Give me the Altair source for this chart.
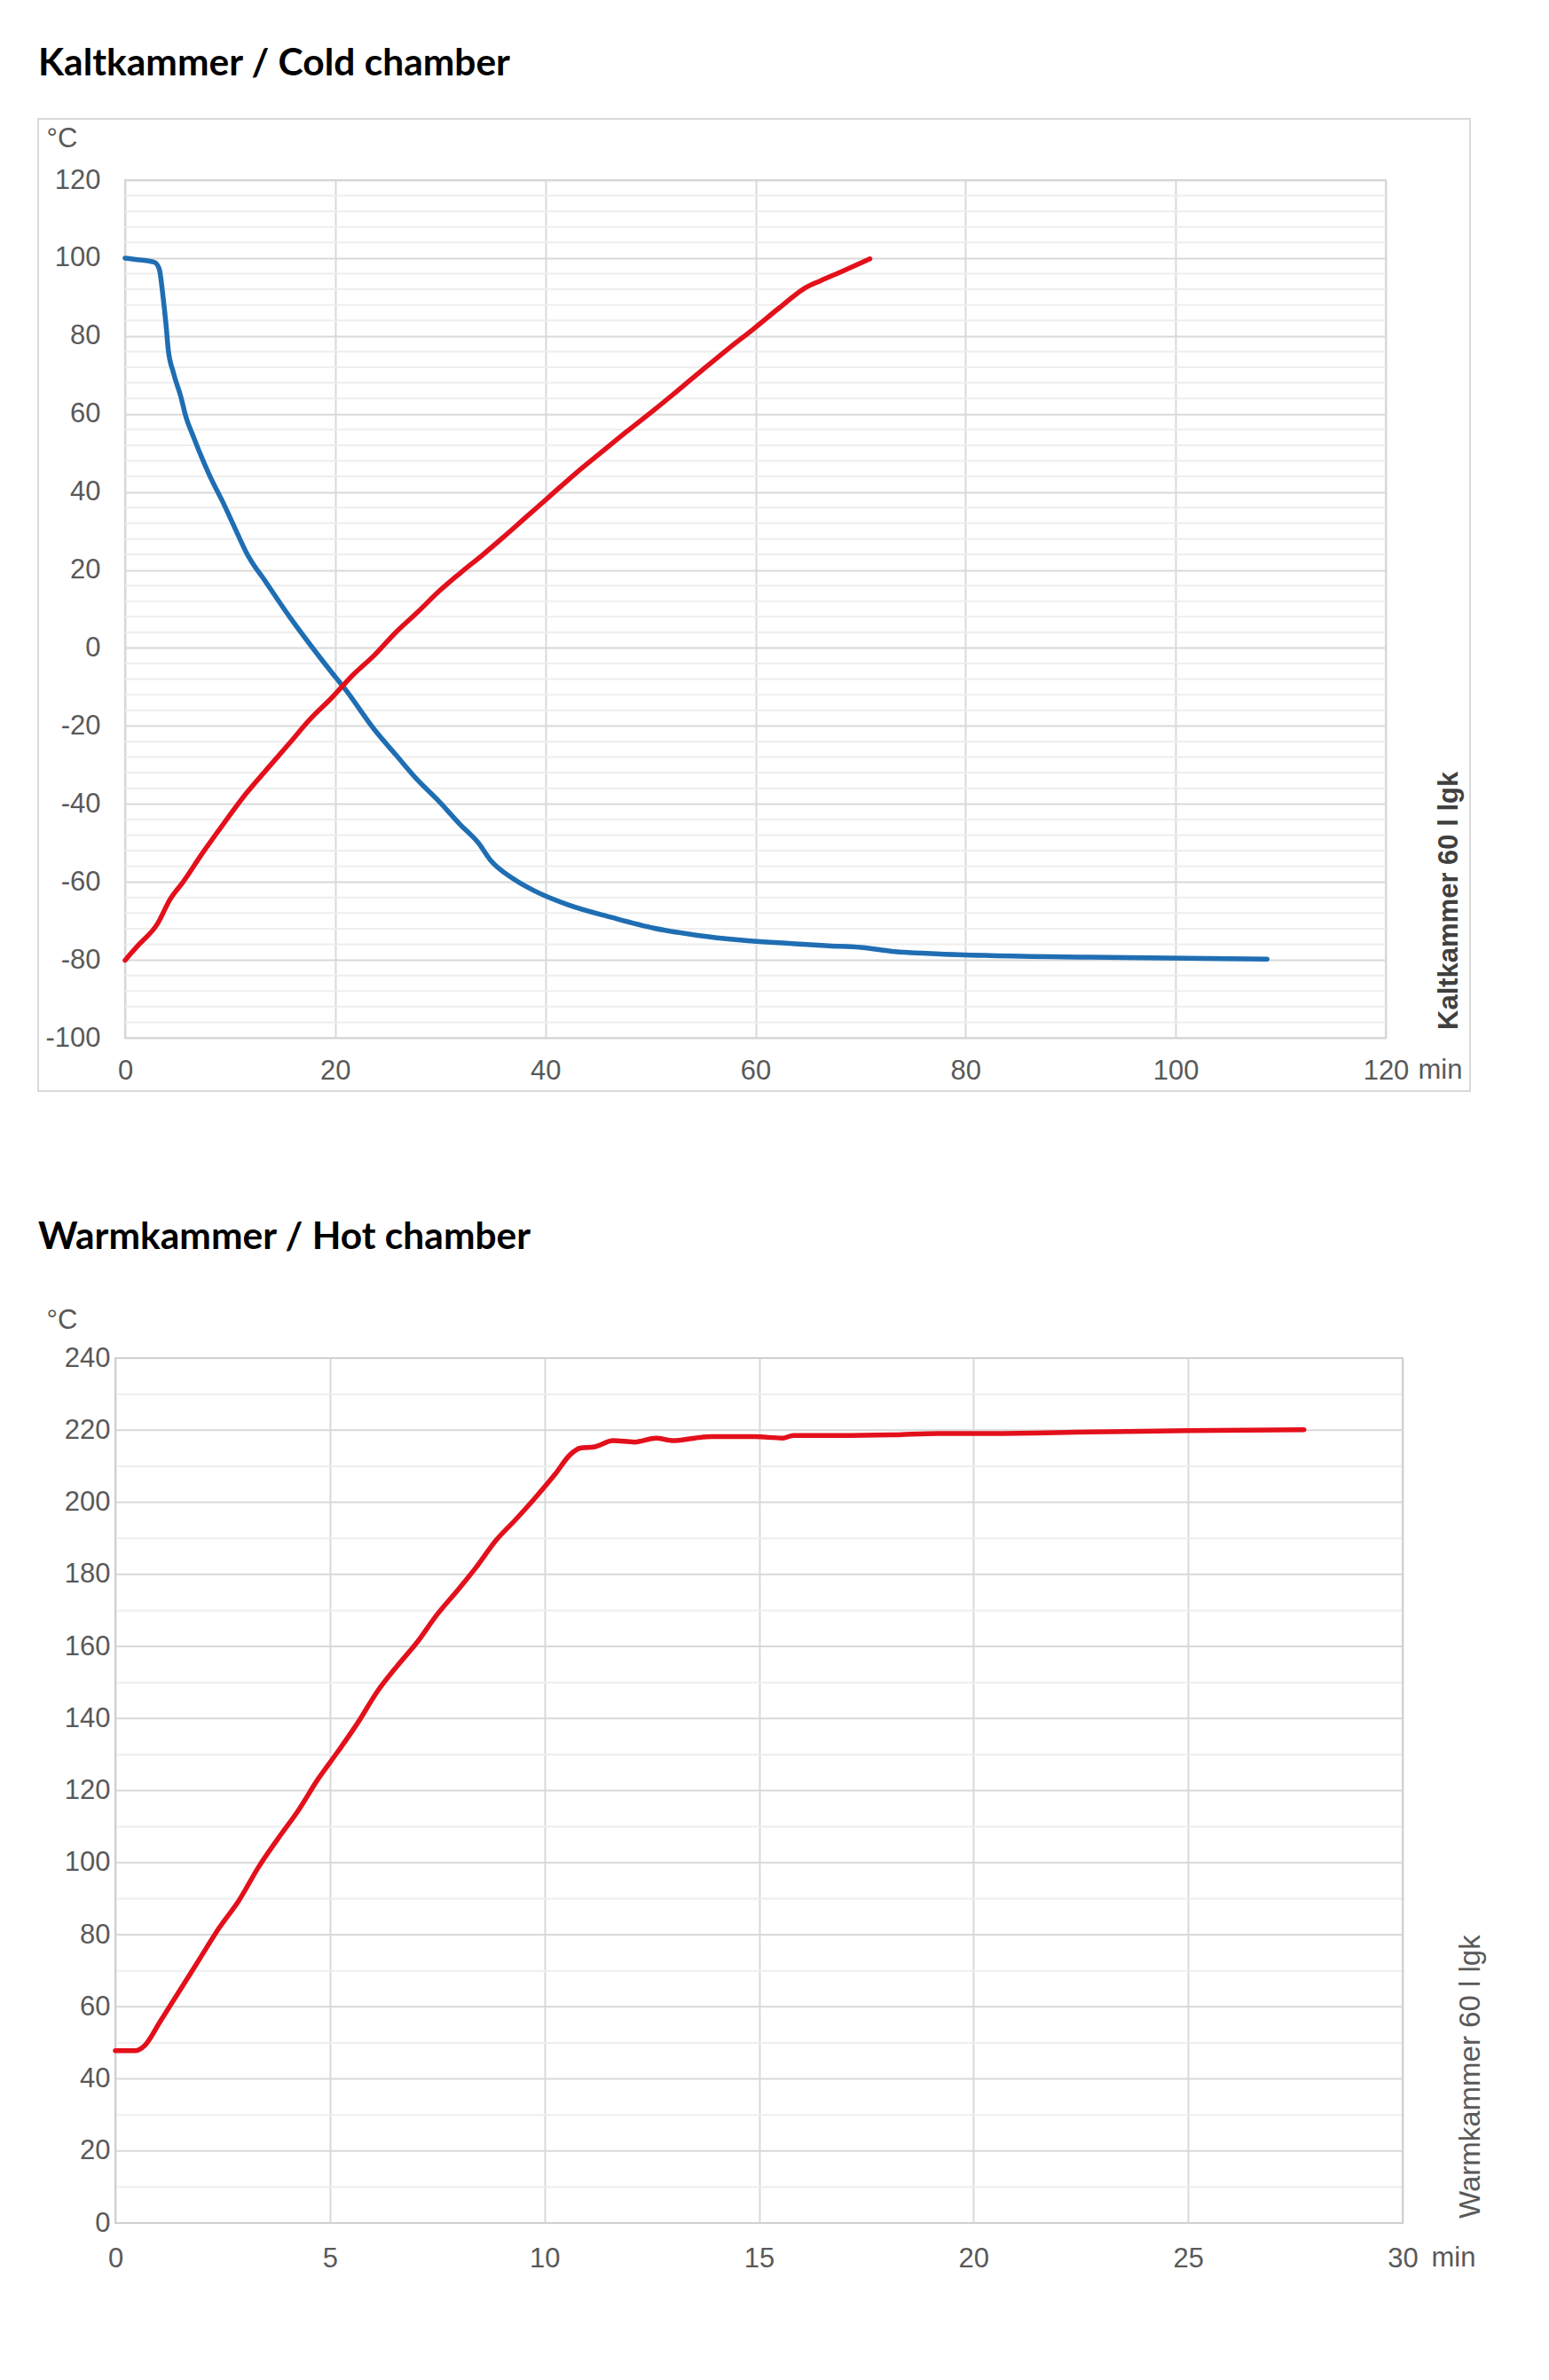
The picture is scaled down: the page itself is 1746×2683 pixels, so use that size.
import altair as alt
import pandas as pd

# ---------------- data: Kaltkammer / Cold chamber ----------------
cold_blue_t = [0, 1.2, 2.8, 3.25, 3.6, 3.9, 4.1, 4.6, 5.3, 5.8, 6.5, 7.0, 8.0, 9.45, 10.9,
               11.5, 13.5, 15.6, 17.6, 19.7, 20.9, 23.75, 25.8, 27.85, 29.9, 31.9, 33.6,
               34.8, 36.9, 38.9, 42.2, 46.3, 50.4, 54.5, 58.6, 63.4, 67.0, 70.0, 73.0,
               77.6, 82.4, 91.8, 101.2, 108.7]
cold_blue_v = [100, 99.6, 98.9, 97.2, 90.4, 82.8, 76.7, 70.6, 64.5, 59.2, 54.2, 50.8, 44.5,
               36.6, 28.1, 24.7, 16.5, 8.2, 0.9, -6.4, -10.4, -21.0, -27.5, -33.9, -39.4,
               -45.3, -49.9, -54.5, -59.1, -62.2, -65.9, -69.1, -71.9, -73.7, -74.9, -75.8,
               -76.4, -76.8, -77.8, -78.5, -78.9, -79.3, -79.6, -79.8]

cold_red_t = [0, 0.5, 1.23, 3.07, 4.3, 5.53, 7.37, 9.42, 11.47, 13.5, 15.56, 17.6, 19.66,
              21.7, 23.75, 25.8, 27.85, 29.9, 31.9, 34.0, 36.0, 38.1, 40.5, 42.9, 45.3,
              47.7, 50.2, 52.6, 55.0, 57.4, 59.9, 62.3, 64.7, 66.2, 68.1, 70.9]
cold_red_v = [-80.1, -78.5, -76.3, -70.8, -64.4, -60.0, -52.6, -44.9, -37.5, -31.1, -24.7,
              -18.3, -12.8, -6.9, -1.8, 4.1, 9.2, 14.6, 19.2, 23.8, 28.4, 33.4, 39.1, 44.8,
              50.1, 55.4, 60.7, 66.0, 71.4, 76.7, 82.0, 87.3, 92.3, 94.2, 96.4, 99.8]

cold_x_ticks = [0, 20, 40, 60, 80, 100, 120]
cold_y_ticks = [-100, -80, -60, -40, -20, 0, 20, 40, 60, 80, 100, 120]
cold_y_minor = [v for v in range(-96, 120, 4) if v % 20 != 0]

# ---------------- data: Warmkammer / Hot chamber ----------------
hot_t = [0, 0.46, 0.69, 1.04, 1.5, 1.96, 2.42, 2.88, 3.34, 3.8, 4.26, 4.72, 5.18, 5.65,
         6.1, 6.57, 7.03, 7.49, 7.95, 8.4, 8.87, 9.33, 9.79, 10.25, 10.6, 10.83, 11.17,
         11.6, 12.1, 12.6, 13.0, 13.5, 13.9, 14.9, 15.55, 15.8, 16.9, 18.1, 19.2, 20.4,
         22.7, 25.0, 27.7]
hot_v = [47.8, 47.8, 49.3, 55.8, 64.5, 73.2, 81.9, 89.5, 98.8, 106.8, 114.4, 123.1, 130.7,
         138.8, 147.4, 154.6, 161.1, 168.7, 175.2, 181.8, 189.4, 195.2, 201.3, 207.8, 213.2,
         215.0, 215.4, 217.1, 216.7, 217.8, 217.1, 217.8, 218.2, 218.2, 217.8, 218.5, 218.5,
         218.7, 219.1, 219.1, 219.5, 219.9, 220.1]

hot_x_ticks = [0, 5, 10, 15, 20, 25, 30]
hot_y_ticks = list(range(0, 241, 20))
hot_y_minor = list(range(10, 240, 20))

# ---------------- styling ----------------
LABEL_FONT = "Liberation Sans, Arial, sans-serif"
TITLE_FONT = "Lato, Liberation Sans, sans-serif"
LABEL_COLOR = "#595959"
MAJOR_GRID = "#d9d9d9"
MINOR_GRID = "#eeeeee"
BORDER = "#d0d0d0"
BLUE = "#1f6eb3"
RED = "#e3101b"
FS = 31
LW = 5.5


def x_axis(values, title_x, title_y, pad):
    return alt.Axis(values=values, title="min", titleX=title_x, titleY=title_y,
                    titleAlign="left", titleBaseline="middle", titleFont=LABEL_FONT,
                    titleFontSize=FS, titleFontWeight="normal", titleColor=LABEL_COLOR,
                    labelFont=LABEL_FONT, labelFontSize=FS, labelColor=LABEL_COLOR,
                    labelPadding=pad, labelFlush=False, labelOverlap=False,
                    labelExpr="'' + datum.value",
                    ticks=False, tickSize=0, domain=False, grid=True,
                    gridColor=MAJOR_GRID, gridWidth=2)


def y_axis(values, title_x, title_y, pad, grid):
    return alt.Axis(values=values, title="°C", titleAngle=0, titleX=title_x, titleY=title_y,
                    titleAlign="left", titleBaseline="middle", titleFont=LABEL_FONT,
                    titleFontSize=FS, titleFontWeight="normal", titleColor=LABEL_COLOR,
                    labelFont=LABEL_FONT, labelFontSize=FS, labelColor=LABEL_COLOR,
                    labelPadding=pad, labelOverlap=False, labelFlush=False,
                    labelExpr="'' + datum.value",
                    ticks=False, tickSize=0, domain=False, grid=grid,
                    gridColor=MAJOR_GRID, gridWidth=2)


one = pd.DataFrame({"a": [0]})

# ---------------- cold panel ----------------
cold_df = pd.concat([
    pd.DataFrame({"t": cold_blue_t, "v": cold_blue_v, "s": "blue"}),
    pd.DataFrame({"t": cold_red_t, "v": cold_red_v, "s": "red"}),
])
cx_scale = alt.Scale(domain=[0, 120], nice=False)
cy_scale = alt.Scale(domain=[-100, 120], nice=False)
cx_axis = x_axis(cold_x_ticks, 1457, 36, 22)
cy_axis = y_axis(cold_y_ticks, -89, -47, 28, True)

cold_minor = alt.Chart(pd.DataFrame({"v": cold_y_minor})).mark_rule(
    color=MINOR_GRID, strokeWidth=2).encode(
    y=alt.Y("v:Q", scale=cy_scale, axis=cy_axis))
cold_lines = alt.Chart(cold_df).mark_line(
    strokeWidth=LW, strokeJoin="round", strokeCap="round", interpolate="monotone").encode(
    x=alt.X("t:Q", scale=cx_scale, axis=cx_axis),
    y=alt.Y("v:Q", scale=cy_scale, axis=cy_axis),
    color=alt.Color("s:N", scale=alt.Scale(domain=["blue", "red"], range=[BLUE, RED]),
                    legend=None),
    detail="s:N",
)
cold_frame = alt.Chart(one).mark_rect(fillOpacity=0, stroke="#d9d9d9", strokeWidth=2).encode(
    x=alt.value(-98), x2=alt.value(1516), y=alt.value(-69), y2=alt.value(1027))
cold_side = alt.Chart(one).mark_text(
    text="Kaltkammer 60 l lgk", angle=270, align="left", baseline="middle",
    font=LABEL_FONT, fontSize=31, fontWeight="bold", color="#404040").encode(
    x=alt.value(1493), y=alt.value(958))

cold = alt.layer(cold_minor, cold_lines, cold_frame, cold_side).properties(
    width=1421, height=967,
    title=alt.TitleParams("Kaltkammer / Cold chamber", anchor="start", frame="group",
                          dx=-98, font=TITLE_FONT, fontSize=42.5, fontWeight="bold",
                          color="#000000", baseline="alphabetic", offset=6),
)

# ---------------- hot panel ----------------
# the hot plot area starts 11 px left of the cold one: its x range starts at -11
HX0 = -11
HW = 1440
hot_df = pd.DataFrame({"t": hot_t, "v": hot_v})
hx_scale = alt.Scale(domain=[0, 30], range=[HX0, HW], nice=False)
hy_scale = alt.Scale(domain=[0, 240], nice=False)
hx_axis = x_axis(hot_x_ticks, 1472, 39, 25)
hy_axis = y_axis(hot_y_ticks, -89, -43, 17, False)

hot_major = alt.Chart(pd.DataFrame({"v": hot_y_ticks})).mark_rule(
    color=MAJOR_GRID, strokeWidth=2).encode(
    y=alt.Y("v:Q", scale=hy_scale, axis=hy_axis), x=alt.value(HX0), x2=alt.value(HW))
hot_minor = alt.Chart(pd.DataFrame({"v": hot_y_minor})).mark_rule(
    color=MINOR_GRID, strokeWidth=2).encode(
    y=alt.Y("v:Q", scale=hy_scale, axis=hy_axis), x=alt.value(HX0), x2=alt.value(HW))
hot_border = alt.Chart(one).mark_rect(fillOpacity=0, stroke=BORDER, strokeWidth=2).encode(
    x=alt.value(HX0), x2=alt.value(HW), y=alt.value(0), y2=alt.value(975))
hot_line = alt.Chart(hot_df).mark_line(
    strokeWidth=LW, strokeJoin="round", strokeCap="round", color=RED,
    interpolate="monotone").encode(
    x=alt.X("t:Q", scale=hx_scale, axis=hx_axis),
    y=alt.Y("v:Q", scale=hy_scale, axis=hy_axis),
)
hot_side = alt.Chart(one).mark_text(
    text="Warmkammer 60 l lgk", angle=270, align="left", baseline="middle",
    font=LABEL_FONT, fontSize=33, color=LABEL_COLOR).encode(
    x=alt.value(1517), y=alt.value(970))

hot = alt.layer(hot_minor, hot_major, hot_border, hot_line, hot_side).properties(
    width=HW, height=975,
    view=alt.ViewBackground(stroke="transparent"),
    title=alt.TitleParams("Warmkammer / Hot chamber", anchor="start", frame="group",
                          dx=-98, font=TITLE_FONT, fontSize=42.5, fontWeight="bold",
                          color="#000000", baseline="alphabetic", offset=22),
)

chart = alt.vconcat(cold, hot, spacing=140).properties(
    padding={"left": 33, "top": 41, "right": 5, "bottom": 5},
    background="white",
).configure_view(stroke=BORDER, strokeWidth=2)

chart.save("out.html", embed_options={"renderer": "svg", "actions": False})
